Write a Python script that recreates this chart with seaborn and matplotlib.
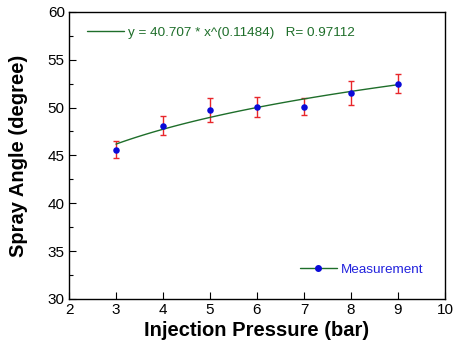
import numpy as np
import pandas as pd
import matplotlib
matplotlib.use("Agg")
import matplotlib.pyplot as plt
from matplotlib.lines import Line2D
from matplotlib.ticker import MultipleLocator
import seaborn as sns

# measured data
pressure = [3, 4, 5, 6, 7, 8, 9]
spray_angle = [45.6, 48.1, 49.7, 50.1, 50.1, 51.5, 52.5]
angle_err = [0.9, 1.0, 1.25, 1.05, 0.87, 1.25, 0.96]

# power fit y = a * x^b shown in the legend
fit_a = 40.707
fit_b = 0.11484
fit_r = 0.97112

sns.set_style("ticks")
plt.rcParams["font.family"] = ["Liberation Sans", "DejaVu Sans"]
plt.rcParams.update({"text.color": "black", "axes.labelcolor": "black",
                     "xtick.color": "black", "ytick.color": "black"})

df = pd.DataFrame({"pressure": pressure, "angle": spray_angle})
x_fit = np.linspace(min(pressure), max(pressure), 100)
fit_df = pd.DataFrame({"pressure": x_fit, "angle": fit_a * x_fit ** fit_b})

fig, ax = plt.subplots(figsize=(4.54, 3.5), dpi=100)
fig.subplots_adjust(left=0.152, right=0.980, bottom=0.146, top=0.966)

fit_color = "#1e6e2a"
ax.errorbar(pressure, spray_angle, yerr=angle_err, fmt="none", ecolor="#e8262a",
            elinewidth=1, capsize=2.5, capthick=1, zorder=2)
sns.lineplot(data=fit_df, x="pressure", y="angle", ax=ax, color=fit_color, lw=1, zorder=3)
sns.scatterplot(data=df, x="pressure", y="angle", ax=ax, color="#0a0ad8", s=22,
                edgecolor="#0a0ad8", linewidth=0, zorder=4)

ax.set_xlim(2, 10)
ax.set_ylim(30, 60)
ax.xaxis.set_major_locator(MultipleLocator(1))
ax.yaxis.set_major_locator(MultipleLocator(5))
ax.yaxis.set_minor_locator(MultipleLocator(2.5))
ax.tick_params(direction="in", which="major", length=5, width=0.8, labelsize=11, pad=3)
ax.tick_params(direction="in", which="minor", axis="y", length=3, width=0.8)
for s in ax.spines.values():
    s.set_visible(True)
    s.set_linewidth(1)
    s.set_color("black")

ax.set_xlabel("Injection Pressure (bar)", fontsize=14.5, fontweight="bold", labelpad=3)
ax.set_ylabel("Spray Angle (degree)", fontsize=14.5, fontweight="bold", labelpad=14)

fit_handle = Line2D([], [], color=fit_color, lw=1)
leg1 = ax.legend([fit_handle], [f"y = {fit_a} * x^({fit_b})   R= {fit_r}"],
                 loc="center left", frameon=False, fontsize=9.7, labelcolor=fit_color,
                 handlelength=2.75, handletextpad=0.3, borderpad=0, borderaxespad=0,
                 bbox_to_anchor=(0.048, 0.927))
ax.add_artist(leg1)

meas_handle = Line2D([], [], color=fit_color, lw=1, marker="o", markersize=4,
                     markerfacecolor="#0a0ad8", markeredgecolor="#0a0ad8")
ax.legend([meas_handle], ["Measurement"], loc="center left", frameon=False,
          fontsize=9.7, labelcolor="#2222dd", handlelength=2.75, handletextpad=0.3,
          borderpad=0, borderaxespad=0, bbox_to_anchor=(0.614, 0.101))

fig.savefig("out.png", dpi=100)
